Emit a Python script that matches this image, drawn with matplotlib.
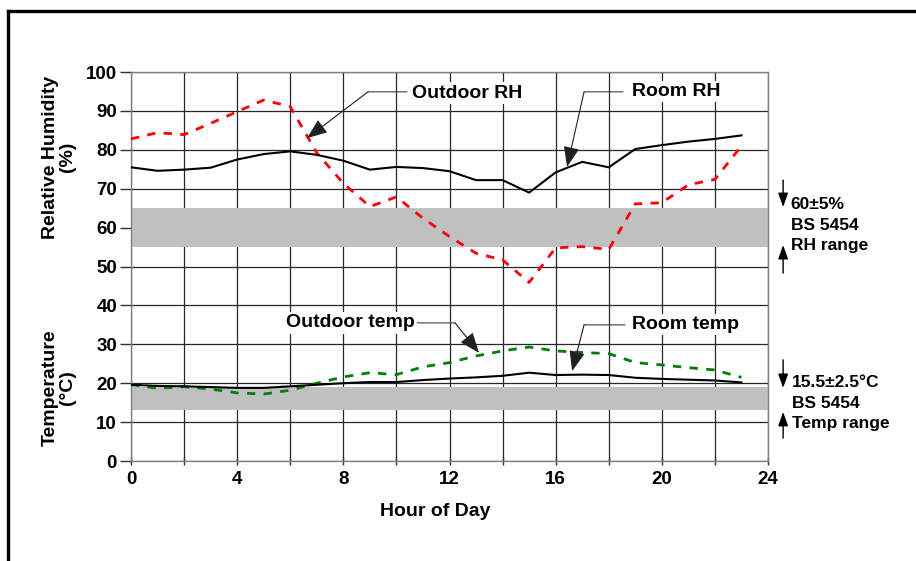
import matplotlib
matplotlib.use("Agg")
import matplotlib.pyplot as plt
from matplotlib.lines import Line2D

plt.rcParams['font.family'] = ['Liberation Sans', 'DejaVu Sans']

hours = list(range(24))
room_rh = [75.5, 74.6, 74.9, 75.4, 77.5, 78.9, 79.6, 78.7, 77.2, 74.9, 75.6, 75.3,
           74.5, 72.2, 72.2, 69.0, 74.2, 76.9, 75.5, 80.2, 81.2, 82.1, 82.8, 83.7]
outdoor_rh = [82.8, 84.4, 83.9, 86.8, 89.8, 92.8, 91.1, 79.2, 71.4, 65.4, 67.9, 62.4,
              57.7, 53.4, 51.7, 45.9, 54.8, 55.1, 54.4, 66.1, 66.4, 71.0, 72.4, 81.0]
room_temp = [19.6, 19.3, 19.2, 19.0, 18.8, 18.8, 19.2, 19.6, 20.0, 20.3, 20.3, 20.8,
             21.2, 21.5, 21.9, 22.7, 22.1, 22.2, 22.1, 21.4, 21.1, 20.9, 20.7, 20.2]
outdoor_temp = [19.6, 18.7, 19.1, 18.5, 17.5, 17.2, 18.2, 20.0, 21.6, 22.7, 22.2, 24.2,
                25.3, 27.0, 28.3, 29.3, 28.3, 27.9, 27.6, 25.3, 24.7, 24.0, 23.4, 21.5]
rh_band = (55, 65)
temp_band = (13, 19)
x_ticks = [0, 4, 8, 12, 16, 20, 24]
y_ticks = list(range(0, 101, 10))

fig = plt.figure(figsize=(9.16, 5.61), dpi=100)
ax = fig.add_axes([131/916, 1-461/561, 637/916, 389/561])

ax.set_xlim(0, 24)
ax.set_ylim(0, 100)
ax.set_xticks(range(0, 25, 2), minor=False)
ax.set_xticklabels([str(h) if h in x_ticks else '' for h in range(0, 25, 2)])
ax.set_yticks(y_ticks)
ax.grid(True, color='#282828', lw=0.9, zorder=0)
ax.set_axisbelow(True)
for s in ax.spines.values():
    s.set_color('#808080')
    s.set_linewidth(1.0)
ax.tick_params(axis='y', direction='out', length=8, width=1, color='#303030', pad=2,
               labelsize=13.5)
ax.tick_params(axis='x', direction='inout', length=6, width=1, color='#303030', pad=4,
               labelsize=13.5)
for lab in ax.get_xticklabels() + ax.get_yticklabels():
    lab.set_fontweight('bold')

ax.axhspan(*rh_band, color='#c0c0c0', lw=0, zorder=1)
ax.axhspan(*temp_band, color='#c0c0c0', lw=0, zorder=1)

ax.plot(hours, outdoor_rh, color='red', lw=2, ls=(0, (3, 3)), zorder=3)
ax.plot(hours, room_rh, color='black', lw=1.5, zorder=4)
ax.plot(hours, outdoor_temp, color='#008000', lw=2, ls=(0, (3, 3)), zorder=3)
ax.plot(hours, room_temp, color='black', lw=1.5, zorder=4)

tfont = dict(fontsize=14, fontweight='bold')
bbox = dict(facecolor='white', edgecolor='none', pad=1.5)
ax.text(10.59, 94.6, 'Outdoor RH', ha='left', va='center', bbox=bbox, zorder=5, **tfont)
ax.text(18.88, 94.9, 'Room RH', ha='left', va='center', bbox=bbox, zorder=5, **tfont)
ax.text(10.70, 35.5, 'Outdoor temp', ha='right', va='center', bbox=bbox, zorder=5, **tfont)
ax.text(18.88, 35.0, 'Room temp', ha='left', va='center', bbox=bbox, zorder=5, **tfont)

leaders = [
    ((10.4, 94.9), (8.93, 94.9), (6.63, 83.0)),
    ((18.54, 94.9), (17.07, 94.9), (16.43, 75.6)),
    ((10.78, 35.5), (12.21, 35.5), (13.11, 27.8)),
    ((18.61, 35.0), (17.07, 35.0), (16.62, 23.1)),
]
for start, elbow, tip in leaders:
    ax.annotate('', xy=elbow, xytext=start,
                arrowprops=dict(arrowstyle='-', color='#404040', lw=0.8,
                                shrinkA=0, shrinkB=0), zorder=6)
    ax.annotate('', xy=tip, xytext=elbow,
                arrowprops=dict(arrowstyle='-|>,head_length=0.9,head_width=0.35',
                                color='#202020', lw=0.8, shrinkA=0, shrinkB=0,
                                mutation_scale=14), zorder=6)

# Right-side range annotations
rkw = dict(arrowstyle='-|>,head_length=0.7,head_width=0.25', color='black', lw=1,
           shrinkA=0, shrinkB=0, mutation_scale=12)
ax.annotate('', xy=(24.57, 65.3), xytext=(24.57, 72.2), arrowprops=rkw, annotation_clip=False)
ax.annotate('', xy=(24.57, 55.5), xytext=(24.57, 48.3), arrowprops=rkw, annotation_clip=False)
ax.annotate('', xy=(24.57, 18.8), xytext=(24.57, 26.0), arrowprops=rkw, annotation_clip=False)
ax.annotate('', xy=(24.57, 12.6), xytext=(24.57, 5.9), arrowprops=rkw, annotation_clip=False)
ax.text(24.85, 60.6, '60±5%\nBS 5454\nRH range', ha='left', va='center', fontsize=12.5,
        fontweight='bold', linespacing=1.45, clip_on=False)
ax.text(24.9, 14.9, '15.5±2.5°C\nBS 5454\nTemp range', ha='left', va='center', fontsize=12.5,
        fontweight='bold', linespacing=1.45, clip_on=False)

fig.text(59/916, 1-157/561, 'Relative Humidity\n(%)', rotation=90, ha='center', va='center',
         fontsize=14, fontweight='bold', linespacing=1.05)
fig.text(59/916, 1-388/561, 'Temperature\n(°C)', rotation=90, ha='center', va='center',
         fontsize=14, fontweight='bold', linespacing=1.05)
fig.text(435/916, 1-511/561, 'Hour of Day', ha='center', va='center',
         fontsize=14, fontweight='bold')

# Figure frame (top and left edges visible)
W, H = 916, 561
fig.add_artist(Line2D([8/W, 1.0], [1-11/H, 1-11/H], color='black', lw=2.4,
                      transform=fig.transFigure))
fig.add_artist(Line2D([8/W, 8/W], [1-11/H, 0.0], color='black', lw=2.4,
                      transform=fig.transFigure))

fig.savefig('out.png', dpi=100)
